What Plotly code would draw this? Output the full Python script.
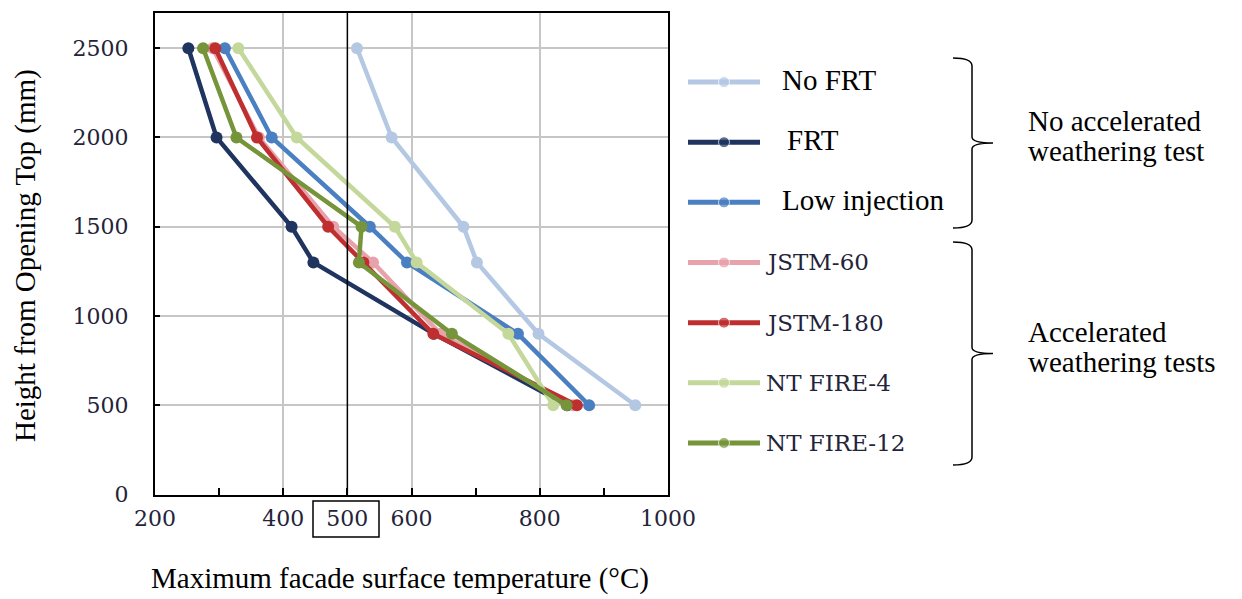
import plotly.graph_objects as go

W, H = 1242, 599

# data
HEIGHTS = [2500, 2000, 1500, 1300, 900, 500]
SERIES = ["No FRT", "FRT", "Low injection", "JSTM-60", "JSTM-180", "NT FIRE-4", "NT FIRE-12"]
NO_FRT = [515, 569, 681, 702, 798, 949]
FRT = [252, 296, 413, 447, 635, 843]
LOW_INJECTION = [309, 382, 535, 593, 766, 877]
JSTM_60 = [290, 362, 478, 540, 645, 852]
JSTM_180 = [294, 359, 470, 525, 634, 858]
NT_FIRE_4 = [330, 421, 574, 608, 751, 821]
NT_FIRE_12 = [275, 327, 522, 518, 663, 842]
TEMPS = [NO_FRT, FRT, LOW_INJECTION, JSTM_60, JSTM_180, NT_FIRE_4, NT_FIRE_12]
COLORS = ["#b4c8e4", "#1f3560", "#4a7fc1", "#e8a2ab", "#bf2f30", "#c4d89c", "#76943a"]

X_TICKS = list(range(200, 1001, 100))
X_TICK_TEXT = ["200", "", "400", "500", "600", "", "800", "", "1000"]
X_GRID = [400, 600, 800]
Y_TICKS = [0, 500, 1000, 1500, 2000, 2500]
REF_TEMP = 500

X_TITLE = "Maximum facade surface temperature (°C)"
Y_TITLE = "Height from Opening Top (mm)"
GROUP_TEXT = [["No accelerated", "weathering test"], ["Accelerated", "weathering tests"]]

TIMES = "Liberation Serif, Times New Roman, serif"
CENTURY = "DejaVu Serif, serif"
INK = "#23233a"


def px(x):
    return x / W


def py(y):
    return 1 - y / H


fig = go.Figure()

for name, temps, color in zip(SERIES, TEMPS, COLORS):
    fig.add_trace(
        go.Scatter(
            x=temps,
            y=HEIGHTS,
            name=name,
            mode="lines+markers",
            line=dict(color=color, width=4.5),
            marker=dict(color=color, size=12),
            showlegend=False,
        )
    )

# hand-made legend on its own axes
for i, (name, color) in enumerate(zip(SERIES, COLORS)):
    fig.add_trace(
        go.Scatter(
            x=[0, 0.5, 1],
            y=[i, i, i],
            mode="lines+markers",
            line=dict(color=color, width=5),
            marker=dict(color=color, size=[0, 11, 0]),
            xaxis="x2",
            yaxis="y2",
            showlegend=False,
            hoverinfo="skip",
        )
    )

fig.add_vline(x=REF_TEMP, line=dict(color="black", width=1.5))

shapes = []
# legend frame
shapes.append(dict(type="rect", xref="paper", yref="paper", x0=px(679), x1=px(917),
                   y0=py(473), y1=py(52), line=dict(color="black", width=2)))
# white patches behind the relabelled entries
for x1, y0, y1 in [(919, 54, 108), (863, 112, 168), (947, 172, 227)]:
    shapes.append(dict(type="rect", xref="paper", yref="paper", x0=px(761), x1=px(x1),
                       y0=py(y1), y1=py(y0), line=dict(width=0), fillcolor="white",
                       layer="above"))
# box round the 500 label
shapes.append(dict(type="rect", xref="paper", yref="paper", x0=px(313), x1=px(379),
                   y0=py(537), y1=py(501), line=dict(color="black", width=1.5)))


def brace(top, bottom, xl=953, xm=972, xt=993):
    mid = (top + bottom) / 2
    pts = [
        f"M {px(xl)},{py(top)}",
        f"Q {px(xm)},{py(top)} {px(xm)},{py(top + 8)}",
        f"L {px(xm)},{py(mid - 6)}",
        f"Q {px(xm)},{py(mid)} {px(xt)},{py(mid)}",
        f"Q {px(xm)},{py(mid)} {px(xm)},{py(mid + 6)}",
        f"L {px(xm)},{py(bottom - 8)}",
        f"Q {px(xm)},{py(bottom)} {px(xl)},{py(bottom)}",
    ]
    return dict(type="path", xref="paper", yref="paper", path=" ".join(pts),
                line=dict(color="black", width=1.5))


shapes.append(brace(58, 228))
shapes.append(brace(242, 465))

annotations = []
legend_y = [82 + 60.14 * i for i in range(len(SERIES))]
for i, name in enumerate(SERIES):
    if i < 3:
        annotations.append(dict(x=px(780 + (5 if i == 1 else 0)), y=py(legend_y[i] - 2), text=name,
                                xref="paper", yref="paper", xanchor="left", yanchor="middle",
                                showarrow=False, font=dict(family=TIMES, size=29, color="black")))
    else:
        annotations.append(dict(x=px(764), y=py(legend_y[i]), text=name,
                                xref="paper", yref="paper", xanchor="left", yanchor="middle",
                                showarrow=False, font=dict(family=CENTURY, size=23, color=INK)))

for lines, ys in zip(GROUP_TEXT, [(121, 151), (332, 362)]):
    for line, y in zip(lines, ys):
        annotations.append(dict(x=px(1026), y=py(y), text=line, xref="paper", yref="paper",
                                xanchor="left", yanchor="middle", showarrow=False,
                                font=dict(family=TIMES, size=29, color="black")))

annotations.append(dict(x=px(400), y=py(578), text=X_TITLE, xref="paper", yref="paper",
                        xanchor="center", yanchor="middle", showarrow=False,
                        font=dict(family=TIMES, size=29, color="black")))
annotations.append(dict(x=px(25), y=py(256), text=Y_TITLE, xref="paper", yref="paper",
                        xanchor="center", yanchor="middle", showarrow=False, textangle=-90,
                        font=dict(family=TIMES, size=29, color="black")))

fig.update_layout(
    width=W,
    height=H,
    margin=dict(l=0, r=0, t=0, b=0, autoexpand=False),
    paper_bgcolor="white",
    plot_bgcolor="white",
    shapes=shapes,
    annotations=annotations,
    xaxis=dict(
        domain=[px(155), px(668)],
        range=[200, 1000],
        automargin=False,
        tickmode="array",
        tickvals=X_TICKS,
        ticktext=X_TICK_TEXT,
        ticks="inside",
        ticklen=7,
        tickwidth=1.5,
        tickcolor="black",
        showgrid=False,
        minor=dict(tickvals=X_GRID, showgrid=True, gridcolor="#c6c6c6", gridwidth=1.5, ticklen=0),
        showline=True,
        linecolor="black",
        linewidth=2,
        mirror=True,
        zeroline=False,
        ticklabelstandoff=3,
        tickfont=dict(family=CENTURY, size=22, color=INK),
    ),
    yaxis=dict(
        domain=[py(494.5), py(12.5)],
        range=[0, 2700],
        automargin=False,
        tickmode="array",
        tickvals=Y_TICKS,
        ticks="inside",
        ticklen=5,
        tickwidth=1.5,
        tickcolor="black",
        showgrid=True,
        gridcolor="#c6c6c6",
        gridwidth=1.5,
        showline=True,
        linecolor="black",
        linewidth=2,
        mirror=True,
        zeroline=False,
        ticklabelstandoff=20,
        tickfont=dict(family=CENTURY, size=22, color=INK),
    ),
    xaxis2=dict(domain=[px(688), px(760)], range=[0, 1], visible=False, anchor="y2",
                automargin=False),
    yaxis2=dict(domain=[py(473), py(52)], range=[6.5, -0.5], visible=False, anchor="x2",
                automargin=False),
)

# the page's default body margin would push the figure 8px off
fig.write_html(
    "out.html",
    config={"displayModeBar": False},
    post_script="document.body.style.margin = '0';",
)
